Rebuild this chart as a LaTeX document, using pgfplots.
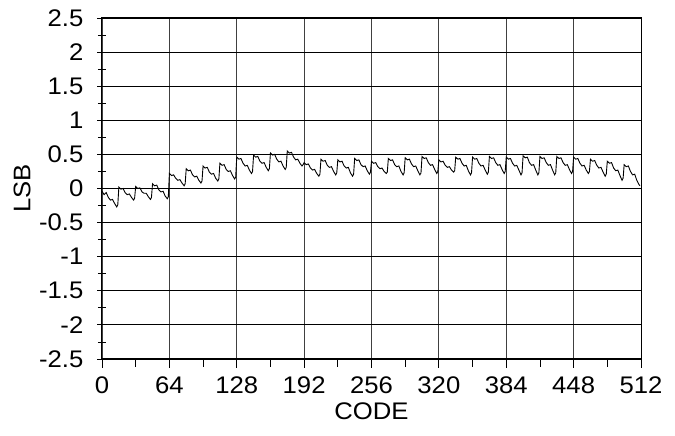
\documentclass[border=0pt]{standalone}
\usepackage{fontspec}
\setmainfont{Liberation Sans}[FakeStretch=1.07]
\usepackage{pgfplots}
\pgfplotsset{compat=1.18}
\begin{document}
\begin{tikzpicture}[x=1pt,y=1pt]
\useasboundingbox (0,0) rectangle (675,436);
\begin{axis}[
  at={(102pt,77pt)}, anchor=south west,
  scale only axis, width=539pt, height=341pt,
  xmin=0, xmax=512, ymin=-2.5, ymax=2.5,
  xtick={0,64,...,512},
  minor xtick={32,96,...,480},
  ytick={-2.5,-2,...,2.5},
  minor ytick={-2.25,-1.75,...,2.25},
  yticklabels={-2.5,-2,-1.5,-1,-0.5,0,0.5,1,1.5,2,2.5},
  xticklabels={0,64,128,192,256,320,384,448,512},
  grid=major,
  major x grid style={black!75, line width=0.8pt},
  major y grid style={black, line width=1.1pt},
  axis line style={black, line width=1pt},
  x tick style={black, line width=0.8pt},
  y tick style={black, line width=0.8pt},
  xtick align=outside, ytick align=center,
  major tick length=9pt, minor tick length=8pt,
  xtick pos=bottom, ytick pos=left,
  tick label style={font=\fontsize{24}{26}\selectfont, /pgf/number format/assume math mode=true, inner sep=0pt},
  label style={font=\fontsize{24}{26}\selectfont},
  xticklabel style={anchor=north, yshift=-9pt},
  yticklabel style={anchor=east, xshift=-14pt},
  xlabel={CODE}, ylabel={LSB},
  xlabel style={at={(axis description cs:0.5,-0.152)}, anchor=center},
  ylabel style={at={(axis description cs:-0.148,0.5)}, anchor=center},
]
\addplot[black, line width=0.9pt, mark=none] coordinates {
(0,-0.04)(2,-0.09)(4,-0.06)(6,-0.13)(8,-0.17)(10,-0.16)(12,-0.22)(14,-0.27)(15,-0.24)
(16,0.02)(18,-0.01)(20,0.00)(22,-0.06)(24,-0.09)(26,-0.08)(28,-0.13)(30,-0.17)(31,-0.14)
(32,0.03)(34,0.00)(36,0.01)(38,-0.05)(40,-0.07)(42,-0.07)(44,-0.12)(46,-0.16)(47,-0.13)
(48,0.07)(50,0.04)(52,0.05)(54,-0.02)(56,-0.05)(58,-0.04)(60,-0.11)(62,-0.15)(63,-0.12)
(64,0.22)(66,0.19)(68,0.20)(70,0.15)(72,0.12)(74,0.13)(76,0.08)(78,0.04)(79,0.07)
(80,0.29)(82,0.26)(84,0.27)(86,0.20)(88,0.17)(90,0.18)(92,0.12)(94,0.08)(95,0.11)
(96,0.33)(98,0.30)(100,0.31)(102,0.24)(104,0.21)(106,0.22)(108,0.15)(110,0.11)(111,0.14)
(112,0.37)(114,0.34)(116,0.35)(118,0.28)(120,0.25)(122,0.26)(124,0.19)(126,0.14)(127,0.17)
(128,0.46)(130,0.43)(132,0.44)(134,0.37)(136,0.33)(138,0.34)(140,0.27)(142,0.22)(143,0.25)
(144,0.49)(146,0.46)(148,0.47)(150,0.40)(152,0.37)(154,0.38)(156,0.31)(158,0.26)(159,0.29)
(160,0.52)(162,0.49)(164,0.50)(166,0.43)(168,0.39)(170,0.40)(172,0.33)(174,0.28)(175,0.31)
(176,0.55)(178,0.52)(180,0.53)(182,0.46)(184,0.42)(186,0.43)(188,0.37)(190,0.33)(191,0.35)
(192,0.38)(194,0.35)(196,0.36)(198,0.30)(200,0.27)(202,0.28)(204,0.22)(206,0.18)(207,0.21)
(208,0.43)(210,0.40)(212,0.41)(214,0.34)(216,0.31)(218,0.32)(220,0.25)(222,0.20)(223,0.23)
(224,0.42)(226,0.39)(228,0.40)(230,0.33)(232,0.30)(234,0.31)(236,0.23)(238,0.18)(239,0.21)
(240,0.44)(242,0.41)(244,0.42)(246,0.35)(248,0.32)(250,0.33)(252,0.26)(254,0.21)(255,0.24)
(256,0.40)(258,0.37)(260,0.38)(262,0.32)(264,0.29)(266,0.30)(268,0.25)(270,0.22)(271,0.24)
(272,0.44)(274,0.41)(276,0.42)(278,0.35)(280,0.32)(282,0.33)(284,0.25)(286,0.20)(287,0.23)
(288,0.45)(290,0.42)(292,0.43)(294,0.36)(296,0.32)(298,0.33)(300,0.26)(302,0.20)(303,0.23)
(304,0.47)(306,0.44)(308,0.45)(310,0.38)(312,0.34)(314,0.35)(316,0.28)(318,0.22)(319,0.25)
(320,0.42)(322,0.39)(324,0.40)(326,0.34)(328,0.31)(330,0.32)(332,0.27)(334,0.24)(335,0.26)
(336,0.46)(338,0.43)(340,0.44)(342,0.37)(344,0.33)(346,0.34)(348,0.26)(350,0.20)(351,0.23)
(352,0.46)(354,0.43)(356,0.44)(358,0.37)(360,0.33)(362,0.34)(364,0.27)(366,0.21)(367,0.24)
(368,0.47)(370,0.44)(372,0.45)(374,0.38)(376,0.34)(378,0.35)(380,0.28)(382,0.22)(383,0.25)
(384,0.46)(386,0.43)(388,0.44)(390,0.37)(392,0.33)(394,0.34)(396,0.27)(398,0.20)(399,0.23)
(400,0.48)(402,0.45)(404,0.46)(406,0.38)(408,0.34)(410,0.35)(412,0.27)(414,0.20)(415,0.23)
(416,0.47)(418,0.44)(420,0.45)(422,0.38)(424,0.34)(426,0.35)(428,0.27)(430,0.20)(431,0.23)
(432,0.47)(434,0.44)(436,0.45)(438,0.38)(440,0.34)(442,0.35)(444,0.28)(446,0.22)(447,0.25)
(448,0.46)(450,0.43)(452,0.44)(454,0.37)(456,0.33)(458,0.34)(460,0.27)(462,0.22)(463,0.25)
(464,0.43)(466,0.40)(468,0.41)(470,0.34)(472,0.30)(474,0.31)(476,0.24)(478,0.18)(479,0.21)
(480,0.40)(482,0.37)(484,0.38)(486,0.30)(488,0.26)(490,0.27)(492,0.19)(494,0.12)(495,0.15)
(496,0.35)(498,0.32)(500,0.33)(502,0.25)(504,0.20)(506,0.21)(508,0.12)(510,0.06)(511,0.04)
};
\end{axis}
\end{tikzpicture}
\end{document}
